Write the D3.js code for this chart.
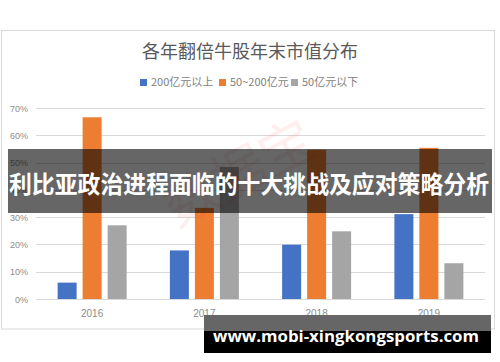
<!DOCTYPE html>
<html lang="zh">
<head>
<meta charset="UTF-8">
<title>各年翻倍牛股年末市值分布</title>
<script src="https://d3js.org/d3.v7.min.js"></script>
<style>
  body { margin: 0; background: #fff; }
  svg { display: block; font-family: "Noto Sans CJK SC", "Noto Sans", sans-serif; }
</style>
</head>
<body>
<svg width="500" height="362"></svg>
<script>
// data
var years = ["2016", "2017", "2018", "2019"];
var seriesNames = ["200亿元以上", "50~200亿元", "50亿元以下"];
var above200 = [0.06, 0.178, 0.199, 0.311];
var from50to200 = [0.666, 0.334, 0.547, 0.554];
var below50 = [0.27, 0.484, 0.248, 0.131];
var yTicks = [0, 0.1, 0.2, 0.3, 0.4, 0.5, 0.6, 0.7];
var colors = ["#4472C4", "#ED7D31", "#A5A5A5"];

var svg = d3.select("svg");
var values = [above200, from50to200, below50];

// chart frame
svg.append("rect")
  .attr("x", 1.5).attr("y", 30.5)
  .attr("width", 493).attr("height", 298.5)
  .attr("fill", "#fff").attr("stroke", "#d9d9d9");

var x = d3.scaleBand().domain(years).range([36, 485]);
var xs = d3.scaleBand().domain(seriesNames)
  .range([0, x.bandwidth()])
  .paddingInner(0.24).paddingOuter(0.865);
var y = d3.scaleLinear().domain([0, 0.7]).range([299, 108]);

// gridlines
svg.append("g").selectAll("line")
  .data(yTicks).enter().append("line")
  .attr("x1", 36).attr("x2", 485)
  .attr("y1", function(d) { return Math.round(y(d)) + 0.5; })
  .attr("y2", function(d) { return Math.round(y(d)) + 0.5; })
  .attr("stroke", "#d9d9d9").attr("stroke-width", 1);

// y labels
svg.append("g").selectAll("text")
  .data(yTicks).enter().append("text")
  .attr("x", 28)
  .attr("y", function(d) { return y(d) + 3.5; })
  .attr("text-anchor", "end")
  .style("font-size", "9px")
  .style("font-family", "'Liberation Sans Narrow', 'Liberation Sans', sans-serif")
  .attr("fill", "#8c8c8c")
  .text(d3.format(".0%"));

// bars
var rows = [];
years.forEach(function(yr, i) {
  seriesNames.forEach(function(s, j) {
    rows.push({year: yr, series: s, v: values[j][i], c: colors[j]});
  });
});
svg.append("g").selectAll("rect")
  .data(rows).enter().append("rect")
  .attr("x", function(d) { return x(d.year) + xs(d.series); })
  .attr("y", function(d) { return y(d.v); })
  .attr("width", xs.bandwidth())
  .attr("height", function(d) { return y(0) - y(d.v); })
  .attr("fill", function(d) { return d.c; });

// x labels
svg.append("g").selectAll("text")
  .data(years).enter().append("text")
  .attr("x", function(d) { return x(d) + x.bandwidth() / 2; })
  .attr("y", 317)
  .attr("text-anchor", "middle")
  .style("font-size", "10px")
  .style("font-family", "'Liberation Sans', sans-serif")
  .attr("fill", "#8c8c8c")
  .text(function(d) { return d; });

// title
svg.append("text")
  .attr("x", 250).attr("y", 58)
  .attr("text-anchor", "middle")
  .style("font-size", "18px")
  .attr("fill", "#595959")
  .text("各年翻倍牛股年末市值分布");

// legend
var legendX = [140, 219, 291];
var legend = svg.append("g").selectAll("g")
  .data(seriesNames).enter().append("g")
  .attr("transform", function(d, i) { return "translate(" + legendX[i] + ",0)"; });
legend.append("rect")
  .attr("x", 0).attr("y", 79).attr("width", 7).attr("height", 7)
  .attr("fill", function(d, i) { return colors[i]; });
legend.append("text")
  .attr("x", 11).attr("y", 86)
  .style("font-size", "11px")
  .attr("fill", "#7f7f7f")
  .text(function(d) { return d; });

// faint watermark
svg.append("text")
  .attr("transform", "translate(248,190) rotate(-28)")
  .attr("text-anchor", "middle")
  .style("font-size", "54px")
  .attr("fill", "#ff3030")
  .attr("opacity", 0.08)
  .text("数据宝");

// headline banner
svg.append("rect")
  .attr("x", 8).attr("y", 149)
  .attr("width", 484).attr("height", 64)
  .attr("fill", "#000").attr("opacity", 0.6);
svg.append("text")
  .attr("x", 249).attr("y", 193)
  .attr("text-anchor", "middle")
  .style("font-size", "24px")
  .style("font-weight", "bold")
  .attr("fill", "#fff")
  .attr("textLength", 480)
  .attr("lengthAdjust", "spacingAndGlyphs")
  .text("利比亚政治进程面临的十大挑战及应对策略分析");

// site banner
svg.append("rect")
  .attr("x", 204).attr("y", 315)
  .attr("width", 287).attr("height", 16)
  .attr("fill", "#666");
svg.append("rect")
  .attr("x", 204).attr("y", 331)
  .attr("width", 287).attr("height", 22)
  .attr("fill", "#000");
svg.append("text")
  .attr("x", 213).attr("y", 342)
  .style("font-size", "16px")
  .style("font-weight", "bold")
  .style("font-family", "'Open Sans', 'DejaVu Sans', sans-serif")
  .attr("fill", "#fff")
  .attr("textLength", 266)
  .attr("lengthAdjust", "spacingAndGlyphs")
  .text("www.mobi-xingkongsports.com");
</script>
</body>
</html>
